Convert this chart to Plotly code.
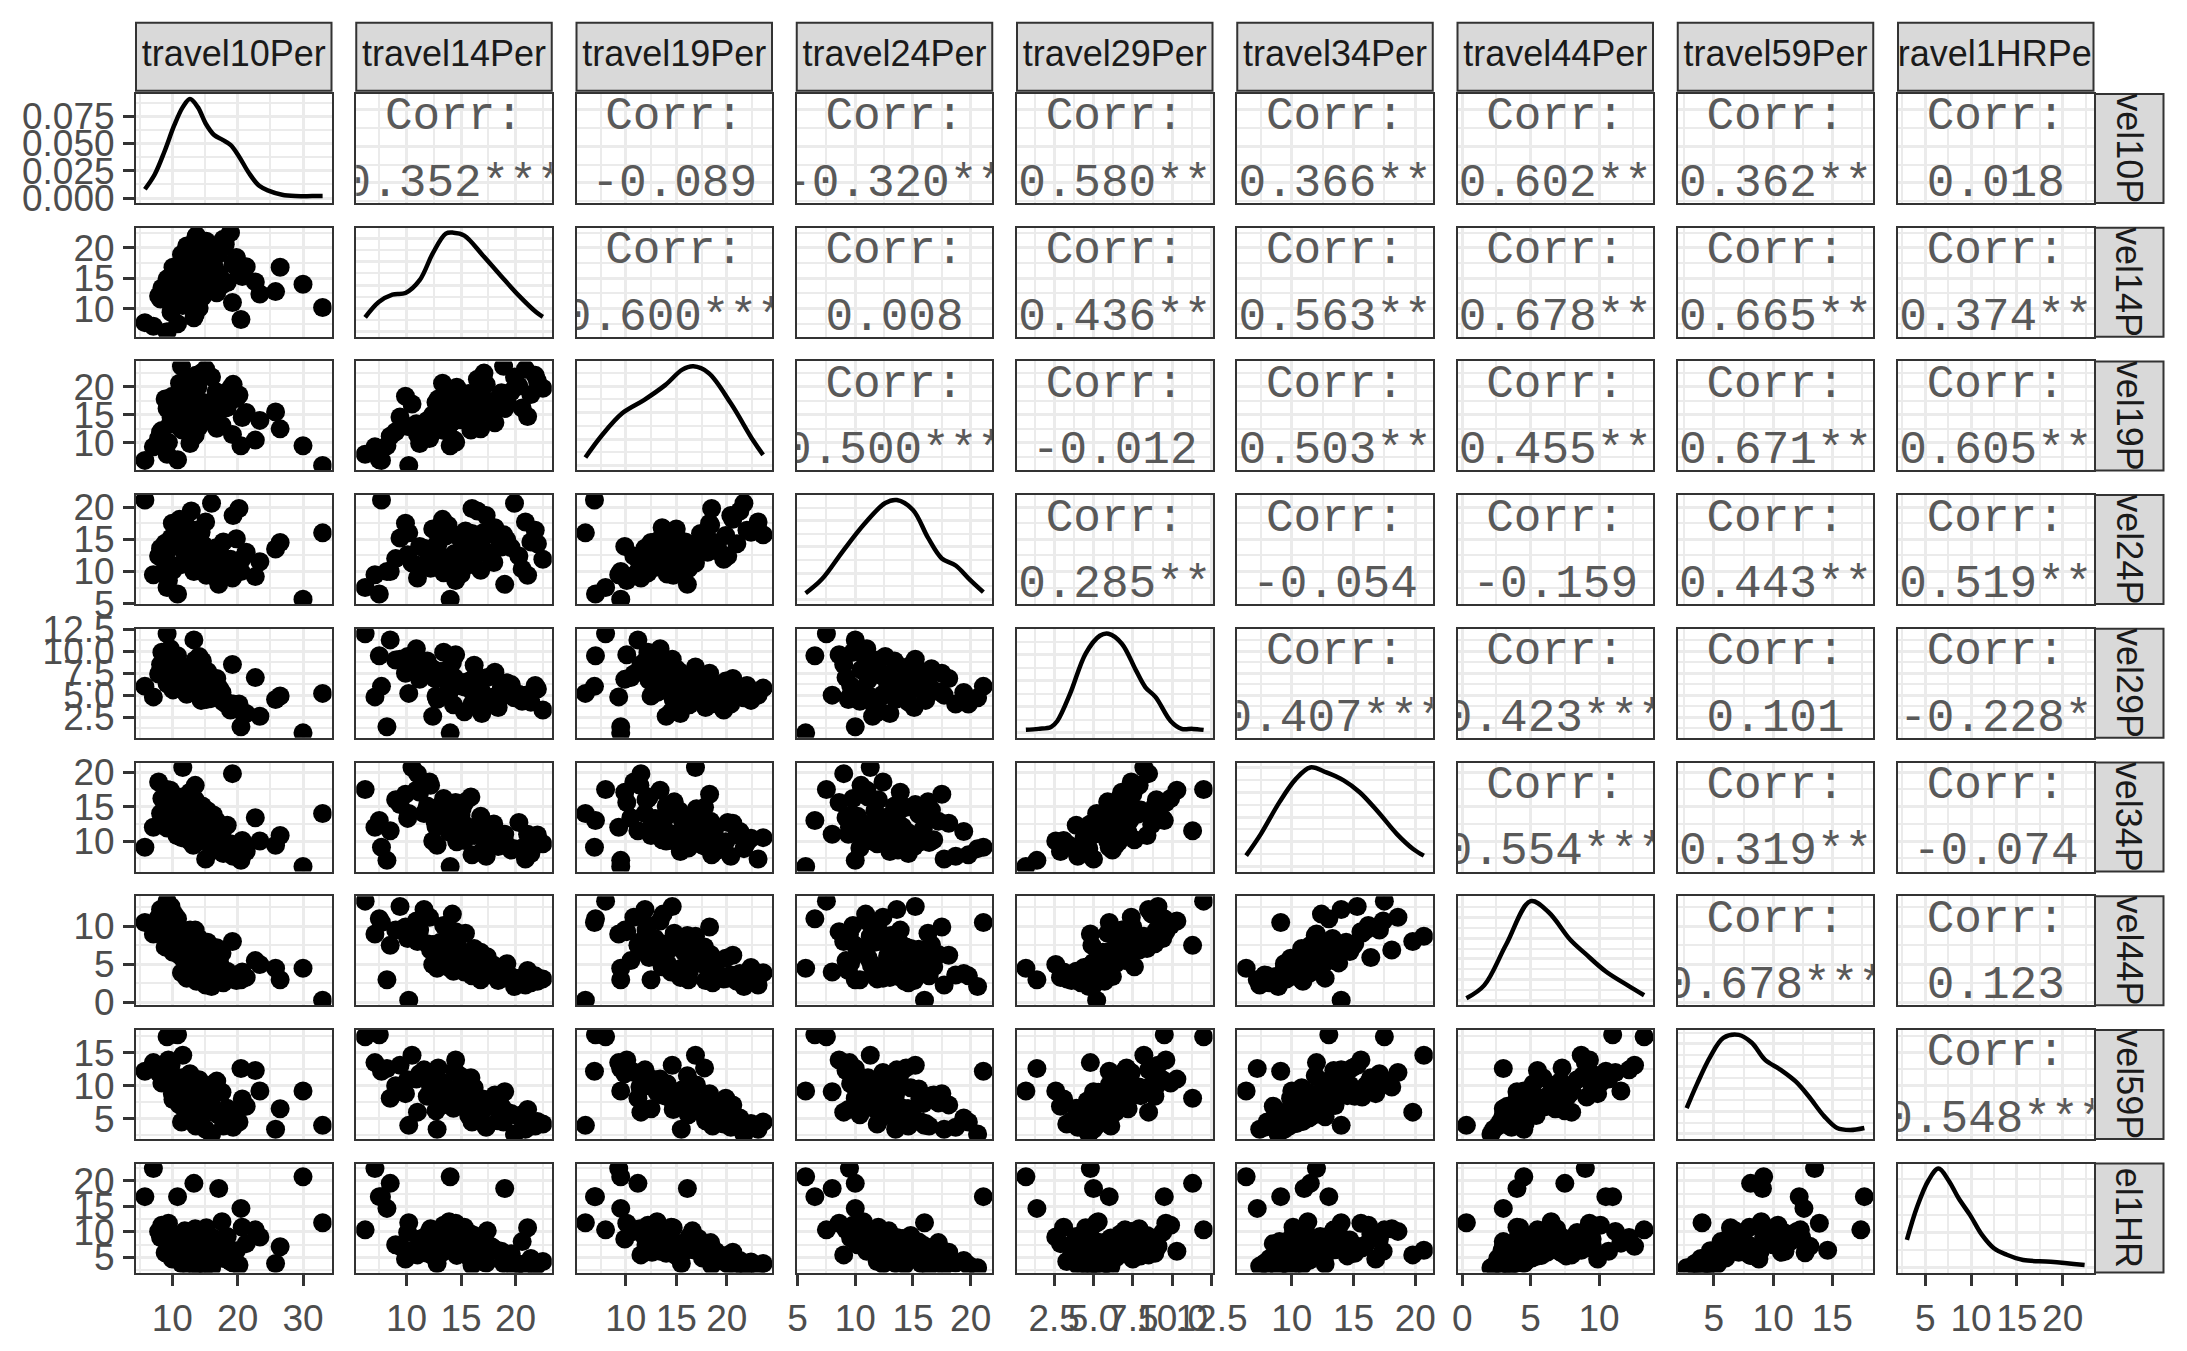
import plotly.graph_objects as go

W, H = 2187, 1351

var_names = ["travel10Per", "travel14Per", "travel19Per", "travel24Per", "travel29Per",
             "travel34Per", "travel44Per", "travel59Per", "travel1HRPer"]
# right-hand strip labels as visible (clipped by the strip box in the original)
right_labels = ["vel10P", "vel14P", "vel19P", "vel24P", "vel29P", "vel34P", "vel44P", "vel59P", "el1HR"]

travel10Per = [33.0, 30.0, 26.5, 25.8, 22.7, 23.4, 20.5, 20.2, 19.2, 17.1, 13.3, 7.1, 5.8, 9.2, 10.8, 13.5,
               9.8, 7.9, 11.6, 8.4, 12.7, 10.3, 8.9, 14.1, 11.3, 13.5,
               9.2, 15.4, 10.7, 12.1, 16.3, 11.9, 13.9, 10.1, 14.8, 12.4,
               17.2, 11.1, 15.9, 13.2, 18.4, 12.9, 16.7, 14.4, 19.8, 12.2,
               17.8, 15.1, 18.9, 16.0, 13.7, 19.3, 11.5, 14.6, 10.5, 12.6,
               13.0, 11.8, 15.6, 12.3, 14.2, 13.4, 10.9, 16.5, 12.0, 14.9,
               9.7, 8.2, 17.6, 20.7, 18.1, 21.3, 10.0, 13.6, 16.8, 11.4, 9.4, 15.2]
travel14Per = [10.2, 14.0, 16.8, 12.8, 14.4, 12.4, 8.2, 16.0, 11.0, 19.0, 8.5, 7.1, 7.7, 6.2, 7.5, 9.0,
               9.4, 12.1, 10.5, 13.4, 11.2, 14.2, 12.9, 10.1, 15.4, 12.2,
               14.9, 13.1, 16.2, 13.8, 15.0, 17.4, 14.6, 16.8, 12.7, 18.1,
               15.7, 13.3, 17.8, 19.2, 14.3, 16.5, 19.6, 17.1, 18.4, 20.3,
               21.4, 20.9, 22.5, 19.9, 22.0, 17.3, 15.9, 11.9, 15.1, 14.0,
               15.5, 16.0, 14.4, 17.0, 16.4, 18.7, 13.6, 16.7, 12.4, 18.0,
               10.9, 11.6, 13.9, 15.3, 20.6, 16.9, 9.9, 21.8, 12.6, 18.9, 14.5, 21.1]
travel19Per = [6.0, 9.5, 12.5, 15.5, 10.5, 14.0, 9.5, 18.5, 11.5, 16.1, 11.2, 9.3, 6.9, 8.0, 7.0, 12.0,
               14.6, 10.8, 16.9, 12.2, 9.9, 13.7, 17.8, 12.9, 14.8, 11.4,
               16.1, 15.3, 13.2, 18.4, 14.1, 16.6, 19.9, 15.8, 17.2, 13.6,
               18.8, 20.6, 15.1, 17.6, 16.3, 21.3, 19.1, 22.4, 17.9, 20.1,
               18.6, 23.1, 19.7, 21.7, 21.0, 20.4, 12.3, 14.0, 17.0, 15.6,
               16.4, 17.4, 16.8, 18.1, 15.9, 18.9, 14.3, 17.5, 15.0, 16.0,
               13.4, 11.9, 13.1, 14.5, 16.2, 15.4, 18.3, 22.0, 12.6, 23.6, 10.1, 14.7]
travel24Per = [16.0, 5.7, 14.5, 13.5, 9.2, 11.5, 10.0, 19.8, 9.0, 8.0, 10.0, 9.5, 21.1, 7.5, 6.5, 12.0,
               15.2, 12.4, 11.3, 9.8, 13.9, 10.9, 14.4, 12.6, 16.3, 10.5,
               13.1, 11.7, 14.8, 17.2, 9.6, 12.9, 15.6, 10.2, 14.1, 16.8,
               13.3, 18.1, 12.1, 14.9, 11.6, 19.4, 13.7, 16.1, 15.1, 12.4,
               14.6, 17.7, 11.9, 20.6, 14.3, 18.7, 11.1, 13.4, 14.0, 12.2,
               13.5, 15.9, 12.8, 13.0, 14.6, 13.8, 15.5, 13.2, 16.6, 11.4,
               11.0, 13.6, 10.7, 12.0, 10.4, 13.0, 17.5, 16.4, 13.6, 15.7, 8.6, 9.4]
travel29Per = [5.2, 0.7, 4.9, 4.5, 7.0, 2.6, 1.4, 4.0, 8.5, 5.0, 11.3, 4.8, 6.0, 12.0, 9.5, 9.0,
               9.1, 7.4, 8.2, 9.9, 6.8, 8.7, 7.1, 9.4, 5.9, 7.9,
               6.3, 7.7, 8.4, 5.4, 6.1, 7.0, 6.6, 5.6, 4.9, 7.6,
               5.8, 6.9, 4.6, 6.4, 3.9, 5.3, 6.2, 4.4, 3.6, 5.1,
               4.2, 5.0, 3.3, 4.7, 5.7, 4.0, 6.7, 8.9, 6.0, 7.3,
               6.5, 5.5, 6.3, 5.2, 7.2, 5.9, 7.8, 5.0, 8.0, 4.8,
               10.3, 8.5, 5.3, 3.1, 4.3, 2.9, 7.5, 6.1, 6.9, 5.8, 9.6, 4.5]
travel34Per = [14.0, 6.3, 10.8, 9.4, 13.4, 10.0, 7.2, 8.0, 19.8, 11.0, 11.5, 12.0, 9.1, 17.5, 13.0, 16.0,
               15.3, 18.6, 20.7, 16.2, 17.1, 12.4, 14.9, 13.3, 15.7, 18.1,
               11.9, 14.4, 10.8, 12.9, 13.8, 11.1, 9.9, 13.6, 12.1, 10.2,
               11.7, 12.6, 10.6, 9.4, 12.3, 11.4, 8.7, 10.4, 9.2, 12.7,
               8.2, 7.4, 9.6, 8.9, 10.9, 7.8, 16.4, 15.1, 14.7, 13.0,
               12.2, 11.8, 13.5, 12.0, 11.2, 10.0, 13.9, 11.6, 14.5, 12.5,
               17.4, 14.0, 11.3, 10.1, 9.0, 8.5, 16.8, 9.8, 12.9, 10.5, 15.6, 11.0]
travel44Per = [0.3, 4.5, 3.0, 4.5, 5.5, 5.0, 3.0, 3.5, 8.0, 4.0, 7.5, 9.0, 10.5, 13.3, 11.0, 9.5,
               12.6, 11.2, 8.7, 10.1, 9.5, 11.6, 7.3, 8.4, 9.1, 6.9,
               8.8, 7.9, 7.1, 6.3, 5.2, 6.0, 5.8, 6.6, 7.5, 4.7,
               5.4, 6.2, 4.3, 5.1, 4.1, 3.8, 3.4, 4.6, 2.9, 3.2,
               2.6, 2.3, 3.1, 2.1, 2.8, 3.6, 5.9, 7.7, 6.7, 8.0,
               6.4, 5.6, 6.1, 5.0, 6.8, 4.4, 7.0, 5.3, 7.6, 4.9,
               10.7, 12.2, 6.5, 4.0, 3.0, 3.3, 9.9, 3.5, 7.2, 3.9, 9.3, 4.2]
travel59Per = [4.0, 9.2, 6.5, 3.4, 12.3, 9.2, 12.6, 4.5, 6.0, 9.1, 8.1, 13.5, 12.2, 17.4, 17.7, 10.0,
               13.1, 12.0, 14.6, 10.4, 11.8, 9.2, 12.7, 10.9, 8.3, 9.8,
               11.5, 8.9, 9.7, 7.4, 10.3, 6.8, 8.1, 7.9, 6.2, 8.6,
               5.5, 7.1, 7.7, 6.0, 6.6, 5.1, 5.8, 4.3, 4.7, 5.3,
               3.9, 3.4, 4.2, 2.7, 4.6, 3.7, 11.2, 8.4, 10.1, 9.4,
               8.7, 7.3, 7.0, 8.0, 6.5, 6.9, 9.5, 6.1, 8.5, 7.2,
               11.0, 12.4, 9.0, 8.0, 5.6, 6.9, 8.8, 3.9, 10.7, 4.5, 13.9, 6.4]
travel1HRPer = [11.8, 20.8, 7.1, 3.8, 10.4, 9.0, 14.6, 3.5, 5.5, 18.5, 19.5, 22.4, 16.9, 10.4, 16.9, 7.5,
                7.2, 10.1, 6.4, 11.3, 8.6, 7.8, 5.9, 9.9, 6.9, 10.6,
                8.2, 6.1, 9.3, 7.9, 8.8, 10.2, 5.4, 7.5, 8.7, 6.6,
                5.2, 6.0, 7.1, 4.9, 9.1, 4.4, 5.7, 4.1, 6.3, 3.7,
                4.8, 3.3, 4.2, 3.0, 3.6, 3.9, 9.6, 5.8, 8.4, 7.6,
                6.8, 7.4, 6.5, 5.5, 7.0, 6.2, 8.0, 6.7, 5.3, 6.4,
                6.2, 8.9, 12.0, 10.9, 8.1, 7.7, 4.7, 3.2, 6.0, 3.8, 11.7, 10.8]

data = [travel10Per, travel14Per, travel19Per, travel24Per, travel29Per,
        travel34Per, travel44Per, travel59Per, travel1HRPer]

# density curves (x value, density)
dens10_x = [5.8, 7.3, 8.8, 10.3, 11.6, 12.7, 13.9, 15.1, 16.4, 17.7, 18.9, 20.2, 21.7, 23.3, 24.8, 26.8, 28.8, 31.4, 33.0]
dens10_y = [0.0081, 0.0216, 0.0427, 0.0668, 0.0834, 0.0909, 0.0834, 0.0684, 0.0578, 0.0533, 0.0487, 0.0382,
            0.0232, 0.0112, 0.0066, 0.0030, 0.0018, 0.0018, 0.0018]
dens14_x = [6.2, 7.45, 8.7, 9.9, 11.2, 12.4, 13.6, 14.3, 15.3, 17.0, 18.6, 20.3, 21.9, 22.5]
dens14_y = [0.0123, 0.0255, 0.0319, 0.0332, 0.0442, 0.0672, 0.0842, 0.085, 0.0825, 0.0655, 0.0485, 0.0310, 0.0167, 0.0128]
dens19_x = [6.0, 7.6, 9.7, 11.8, 13.9, 15.6, 16.7, 18.2, 20.4, 22.6, 23.6]
dens19_y = [0.0060, 0.0225, 0.0398, 0.0495, 0.0608, 0.0725, 0.075, 0.0700, 0.0470, 0.0190, 0.008]
dens24_x = [5.7, 7.1, 8.9, 10.8, 12.6, 13.6, 15.0, 16.3, 17.5, 18.7, 19.9, 21.1]
dens24_y = [0.0057, 0.019, 0.0456, 0.0722, 0.0922, 0.095, 0.0855, 0.0589, 0.039, 0.0323, 0.019, 0.0067]
dens29_x = [0.7, 1.5, 2.3, 2.7, 3.5, 4.5, 5.4, 5.95, 6.8, 7.7, 8.3, 8.95, 9.9, 10.6, 11.3, 12.0]
dens29_y = [0.0057, 0.0076, 0.0114, 0.0228, 0.0741, 0.152, 0.1862, 0.19, 0.171, 0.1197, 0.0874, 0.0684,
            0.0228, 0.0076, 0.0076, 0.0057]
dens34_x = [6.3, 7.5, 9.0, 10.3, 11.5, 12.8, 14.2, 15.5, 17.0, 18.5, 19.8, 20.7]
dens34_y = [0.011, 0.033, 0.065, 0.088, 0.1, 0.095, 0.087, 0.075, 0.055, 0.033, 0.018, 0.011]
dens44_x = [0.3, 1.6, 3.2, 5.0, 6.3, 7.9, 9.0, 10.5, 12.1, 13.3]
dens44_y = [0.0024, 0.018, 0.0672, 0.12, 0.1068, 0.0732, 0.0564, 0.0348, 0.018, 0.006]
dens59_x = [2.7, 3.6, 4.7, 5.8, 7.1, 8.2, 9.3, 10.6, 11.9, 13.0, 14.3, 15.4, 16.5, 17.7]
dens59_y = [0.0286, 0.0561, 0.0858, 0.1067, 0.11, 0.1012, 0.0825, 0.0715, 0.0583, 0.0418, 0.0198, 0.0066, 0.0044, 0.0066]
dens1HR_x = [3.0, 4.1, 5.35, 6.45, 7.55, 8.65, 9.9, 11.2, 12.5, 13.9, 15.7, 18.7, 22.4]
dens1HR_y = [0.0392, 0.0854, 0.1232, 0.14, 0.1232, 0.098, 0.0742, 0.0462, 0.0273, 0.0182, 0.0108, 0.0084, 0.0038]

dens_x = [dens10_x, dens14_x, dens19_x, dens24_x, dens29_x, dens34_x, dens44_x, dens59_x, dens1HR_x]
dens_y = [dens10_y, dens14_y, dens19_y, dens24_y, dens29_y, dens34_y, dens44_y, dens59_y, dens1HR_y]

corr_row1 = ["0.352***", "-0.089", "-0.320**", "-0.580***", "-0.366***", "-0.602***", "-0.362***", "0.018"]
corr_row2 = ["0.600***", "0.008", "-0.436***", "-0.563***", "-0.678***", "-0.665***", "-0.374***"]
corr_row3 = ["0.500***", "-0.012", "-0.503***", "-0.455***", "-0.671***", "-0.605***"]
corr_row4 = ["0.285**", "-0.054", "-0.159", "-0.443***", "-0.519***"]
corr_row5 = ["0.407***", "0.423***", "0.101", "-0.228*"]
corr_row6 = ["0.554***", "0.319**", "-0.074"]
corr_row7 = ["0.678***", "0.123"]
corr_row8 = ["0.548***"]
corr_rows = [corr_row1, corr_row2, corr_row3, corr_row4, corr_row5, corr_row6, corr_row7, corr_row8]

tick_step = [10, 5, 5, 5, 2.5, 5, 5, 5, 5]
tick_fmt = ["", "", "", "", ".1f", "", "", "", ""]
dens_step = [0.025, 0.02, 0.02, 0.025, 0.05, 0.025, 0.025, 0.025, 0.05]

# ---------------- geometry (pixels) ----------------
PL, PG, PW = 136.0, 220.25, 195.5
PT, PV, PH = 94.0, 133.7, 109.0
STRIP_T, STRIP_B = 22.7, 90.7
RS_L, RS_R = 2095.0, 2163.5

def xd(j):
    l = PL + j * PG
    return [l / W, (l + PW) / W]

def yd(i):
    t = PT + i * PV
    return [1 - (t + PH) / H, 1 - t / H]

def expand(vals):
    lo, hi = min(vals), max(vals)
    d = hi - lo
    return [lo - 0.05 * d, hi + 0.05 * d]

ranges = [expand(v) for v in data]
n = len(var_names)

GRID = "#EBEBEB"
SANS = "Liberation Sans, Arial, Helvetica, sans-serif"
TICKFONT = dict(family=SANS, size=37, color="#4D4D4D")

fig = go.Figure()
layout = dict(width=W, height=H, margin=dict(l=0, r=0, t=0, b=0, autoexpand=False),
              paper_bgcolor="white", plot_bgcolor="rgba(0,0,0,0)", showlegend=False)
shapes = []
annotations = []

def axis_style(domain, anchor, rng, dtick, show, fmt):
    return dict(domain=domain, anchor=anchor, range=rng, autorange=False, automargin=False,
                tickmode="linear", tick0=0, dtick=dtick, tickangle=0,
                showgrid=True, gridcolor=GRID, gridwidth=3,
                minor=dict(tick0=0, dtick=dtick / 2, showgrid=True, gridcolor=GRID, gridwidth=1.6),
                zeroline=False, showline=True, mirror=True, linecolor="#333333", linewidth=2,
                ticks="outside" if show else "", ticklen=11, tickwidth=2.5, tickcolor="#333333",
                showticklabels=show, tickfont=TICKFONT, tickformat=fmt, ticklabelstandoff=1,
                fixedrange=True)

for i in range(n):
    for j in range(n):
        k = i * n + j + 1
        xs = "x" if k == 1 else f"x{k}"
        ys = "y" if k == 1 else f"y{k}"
        xname = "xaxis" if k == 1 else f"xaxis{k}"
        yname = "yaxis" if k == 1 else f"yaxis{k}"
        xrng = ranges[j]
        layout[xname] = axis_style(xd(j), ys, xrng, tick_step[j], i == n - 1, tick_fmt[j])
        if i == j:
            dmax = max(dens_y[i])
            yrng = [-0.05 * dmax, 1.05 * dmax]
            layout[yname] = axis_style(yd(i), xs, yrng, dens_step[i], j == 0, ".3f")
            fig.add_trace(go.Scatter(x=dens_x[i], y=dens_y[i], mode="lines",
                                     line=dict(color="black", width=4.5, shape="spline", smoothing=1.0),
                                     xaxis=xs, yaxis=ys, hoverinfo="skip"))
        else:
            yrng = ranges[i]
            layout[yname] = axis_style(yd(i), xs, yrng, tick_step[i], j == 0, tick_fmt[i])
            if i > j:
                fig.add_trace(go.Scatter(x=data[j], y=data[i], mode="markers",
                                         marker=dict(color="black", size=19, line=dict(width=0)),
                                         xaxis=xs, yaxis=ys, hoverinfo="skip", cliponaxis=True))
            else:
                xc = (xrng[0] + xrng[1]) / 2
                y1 = yrng[0] + 0.78 * (yrng[1] - yrng[0])
                y2 = yrng[0] + 0.17 * (yrng[1] - yrng[0])
                fig.add_trace(go.Scatter(x=[xc, xc], y=[y1, y2], mode="text",
                                         text=["Corr:", corr_rows[i][j - i - 1]],
                                         textposition="middle center",
                                         textfont=dict(family="Liberation Mono, Courier New, Courier, monospace",
                                                       size=46, color="#595959"),
                                         xaxis=xs, yaxis=ys, hoverinfo="skip", cliponaxis=True))

# top strips (text traces on hidden axes so the label is clipped by the strip)
for j in range(n):
    k = n * n + j + 1
    xname, yname = f"xaxis{k}", f"yaxis{k}"
    layout[xname] = dict(domain=xd(j), anchor=f"y{k}", range=[0, 1], visible=False,
                         fixedrange=True, automargin=False)
    layout[yname] = dict(domain=[1 - STRIP_B / H, 1 - STRIP_T / H], anchor=f"x{k}", range=[0, 1],
                         visible=False, fixedrange=True, automargin=False)
    d = xd(j)
    shapes.append(dict(type="rect", xref="paper", yref="paper", x0=d[0], x1=d[1],
                       y0=1 - STRIP_B / H, y1=1 - STRIP_T / H, fillcolor="#D9D9D9",
                       line=dict(color="#333333", width=2), layer="below"))
    fig.add_trace(go.Scatter(x=[0.5], y=[0.5], mode="text", text=[var_names[j]],
                             textposition="middle center",
                             textfont=dict(family=SANS, size=36, color="#1A1A1A"),
                             xaxis=f"x{k}", yaxis=f"y{k}", hoverinfo="skip", cliponaxis=True))

# right strips
for i in range(n):
    d = yd(i)
    shapes.append(dict(type="rect", xref="paper", yref="paper", x0=RS_L / W, x1=RS_R / W,
                       y0=d[0], y1=d[1], fillcolor="#D9D9D9",
                       line=dict(color="#333333", width=2), layer="below"))
    annotations.append(dict(x=(RS_L + RS_R) / 2 / W, y=(d[0] + d[1]) / 2, xref="paper", yref="paper",
                            text=right_labels[i], textangle=90, showarrow=False,
                            xanchor="center", yanchor="middle",
                            font=dict(family=SANS, size=36, color="#1A1A1A")))

layout["shapes"] = shapes
layout["annotations"] = annotations
fig.update_layout(**layout)
fig.write_html("out.html", config={"displayModeBar": False},
               post_script="document.body.style.margin='0px';document.body.style.padding='0px';")
